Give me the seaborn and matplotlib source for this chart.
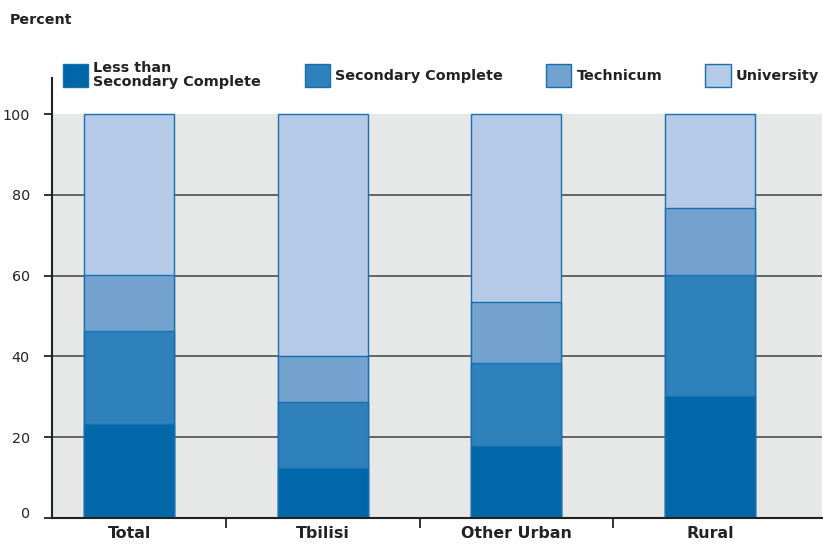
import matplotlib
matplotlib.use("Agg")
import matplotlib.pyplot as plt
import matplotlib.transforms as mtransforms
from matplotlib.patches import Patch
import numpy as np
import pandas as pd
import seaborn as sns

# ── data ─────────────────────────────────────────────────────────────────────
regions = ["Total", "Tbilisi", "Other Urban", "Rural"]
less_than_secondary = [23.3, 12.4, 17.8, 30.2]
secondary_complete = [23.0, 16.3, 20.6, 29.9]
technicum = [13.8, 11.4, 15.1, 16.6]
university = [39.9, 59.9, 46.5, 23.3]

series_names = ["Less than\nSecondary Complete", "Secondary Complete",
                "Technicum", "University"]
series_vals = [less_than_secondary, secondary_complete, technicum, university]
colors = ["#0068a9", "#2f81bb", "#74a2cf", "#b4cae6"]
edge = "#1670b0"
bg_gray = "#e6e7e7"

sns.set_theme(style="white")
plt.rcParams["font.family"] = ["DejaVu Sans"]

fig = plt.figure(figsize=(8.23, 5.46), dpi=100)
ax = fig.add_axes([0.0632, 0.0513, 0.9358, 0.806])

# gray plotting area only up to 100
ax.set_facecolor("white")
ax.axhspan(0, 100, color=bg_gray, zorder=0, lw=0)
for gy in [20, 40, 60, 80]:
    ax.axhline(gy, color="#5a5a5a", lw=1.3, zorder=1)

# stacked bars: draw cumulative totals from the top layer down
df = pd.DataFrame({"region": regions})
cum = np.cumsum(np.array(series_vals), axis=0)
for i in range(len(series_names) - 1, -1, -1):
    df["cum"] = np.minimum(cum[i], 100)
    sns.barplot(data=df, x="region", y="cum", color=colors[i], width=0.465,
                edgecolor=edge, linewidth=1.0, saturation=1, ax=ax, zorder=2)

ax.set_xlim(-0.4, 3.58)
ax.set_ylim(0, 109)
ax.set_xlabel("")
ax.set_ylabel("")

ax.set_yticks([0, 20, 40, 60, 80, 100])
ax.set_yticklabels(["0", "20", "40", "60", "80", "100"], fontsize=10.3,
                   color="#222222")
ax.tick_params(axis="y", length=6, width=1.3, color="#222222", pad=10,
               left=True)
zero_lbl = ax.get_yticklabels()[0]
zero_lbl.set_transform(zero_lbl.get_transform() +
                       mtransforms.ScaledTranslation(0, 5 / 100, fig.dpi_scale_trans))

# category separators as ticks, labels as minor ticks
ax.set_xticks([0.5, 1.5, 2.5])
ax.set_xticklabels([])
ax.tick_params(axis="x", which="major", length=7, width=1.3,
               color="#222222", direction="out", bottom=True)
ax.set_xticks(range(len(regions)), minor=True)
ax.set_xticklabels(regions, minor=True, fontsize=11.4, fontweight="bold",
                   color="#222222")
ax.tick_params(axis="x", which="minor", length=0, pad=6)

for side in ["top", "right"]:
    ax.spines[side].set_visible(False)
for side in ["left", "bottom"]:
    ax.spines[side].set_color("#222222")
    ax.spines[side].set_linewidth(1.5)

fig.text(0.012, 0.963, "Percent", fontsize=10.3, fontweight="bold",
         color="#222222", va="center", ha="left")

handles = [Patch(facecolor=c, edgecolor=edge, linewidth=1.0) for c in colors]
leg = fig.legend(handles, series_names, loc="center left",
                 bbox_to_anchor=(0.0765, 0.863), ncol=4, frameon=False,
                 prop={"size": 10.4, "weight": "bold"},
                 handlelength=1.75, handleheight=2.1, handletextpad=0.35,
                 columnspacing=3.0, borderpad=0, borderaxespad=0)
for t in leg.get_texts():
    t.set_linespacing(0.95)
    t.set_color("#222222")

fig.savefig("out.png", dpi=100)
